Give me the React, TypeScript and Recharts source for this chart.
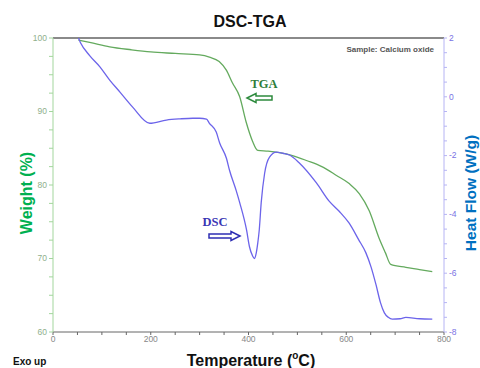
import React from 'react';
import {
  LineChart,
  Line,
  XAxis,
  YAxis,
  ReferenceLine
} from 'recharts';

// TGA curve: temperature (°C) vs weight (%)
const tgaTemp = [52, 75, 116, 160, 200, 250, 300, 320, 340, 355, 367, 382, 395, 408, 419, 440, 463, 490, 520, 550, 580, 606, 627, 647, 667, 680, 691, 722, 750, 776];
const tgaWeight = [99.7, 99.4, 98.8, 98.4, 98.1, 97.9, 97.7, 97.4, 96.8, 95.6, 93.9, 92.0, 88.6, 86.0, 84.7, 84.6, 84.4, 84.0, 83.3, 82.5, 81.3, 80.2, 78.8, 76.5, 72.8, 70.8, 69.2, 68.8, 68.5, 68.2];

// DSC curve: temperature (°C) vs heat flow (W/g)
const dscTemp = [52, 56, 75, 96, 116, 137, 163, 198, 232, 260, 286, 300, 314, 320, 334, 341, 355, 361, 375, 382, 396, 402, 408, 412, 416, 419, 422, 426, 433, 443, 457, 470, 484, 504, 539, 565, 586, 606, 625, 640, 651, 661, 670, 678, 686, 694, 710, 722, 750, 776];
const dscHeat = [2.0, 1.85, 1.4, 1.02, 0.57, 0.16, -0.35, -0.9, -0.79, -0.75, -0.73, -0.73, -0.76, -0.9, -1.2, -1.57, -2.1, -2.49, -3.2, -3.6, -4.53, -5.1, -5.4, -5.5, -5.3, -4.97, -4.53, -3.6, -2.6, -2.05, -1.88, -1.92, -1.98, -2.25, -2.93, -3.55, -3.9, -4.3, -4.85, -5.3, -5.8, -6.4, -7.0, -7.35, -7.5, -7.56, -7.55, -7.5, -7.55, -7.56];

const xTicks = [0, 50, 100, 150, 200, 250, 300, 350, 400, 450, 500, 550, 600, 650, 700, 750, 800];
const xLabels = [0, 200, 400, 600, 800];
const weightTicks = [60, 62.5, 65, 67.5, 70, 72.5, 75, 77.5, 80, 82.5, 85, 87.5, 90, 92.5, 95, 97.5, 100];
const weightLabels = [60, 70, 80, 90, 100];
const heatTicks = [-8, -7.5, -7, -6.5, -6, -5.5, -5, -4.5, -4, -3.5, -3, -2.5, -2, -1.5, -1, -0.5, 0, 0.5, 1, 1.5, 2];
const heatLabels = [-8, -6, -4, -2, 0, 2];

const tgaData = tgaTemp.map((t, i) => ({ t, w: tgaWeight[i] }));
const dscData = dscTemp.map((t, i) => ({ t, h: dscHeat[i] }));

const narrow = '"Liberation Sans Narrow", "Arial Narrow", Arial, sans-serif';

const makeTick = (labels: number[], color: string, anchor: string, dy: string) =>
  (props: any) => {
    const { x, y, payload } = props;
    if (!labels.includes(payload.value)) return <g />;
    return (
      <text x={x} y={y} dy={dy} textAnchor={anchor} fill={color} fontSize={8.5} fontFamily={narrow}>
        {payload.value}
      </text>
    );
  };

export default function App() {
  return (
    <div style={{ position: 'absolute', left: 0, top: 0, width: 480, height: 368, background: '#fff', fontFamily: 'Arial, "Liberation Sans", sans-serif', overflow: 'hidden' }}>
      <LineChart width={480} height={368} margin={{ top: 38, right: 0, bottom: 0, left: 0 }}>
        <XAxis
          type="number"
          dataKey="t"
          domain={[0, 800]}
          ticks={xTicks}
          interval={0}
          height={36}
          stroke="#666"
          tickSize={3}
          tickMargin={1}
          tick={makeTick(xLabels, '#888', 'middle', '0.71em')}
          allowDataOverflow
        />
        <YAxis
          yAxisId="left"
          domain={[60, 100]}
          ticks={weightTicks}
          interval={0}
          width={53}
          stroke="#a3d69d"
          tickSize={4}
          tick={makeTick(weightLabels, '#8fb08c', 'end', '0.32em')}
          allowDataOverflow
        />
        <YAxis
          yAxisId="right"
          orientation="right"
          domain={[-8, 2]}
          ticks={heatTicks}
          interval={0}
          width={36}
          stroke="#b6b4f4"
          tickSize={3}
          tick={makeTick(heatLabels, '#7a72e4', 'start', '0.32em')}
          allowDataOverflow
        />
        <ReferenceLine yAxisId="left" y={100} stroke="#8a8a8a" strokeWidth={2} />
        <Line
          yAxisId="left"
          data={tgaData}
          dataKey="w"
          type="monotone"
          stroke="#64aa5e"
          strokeWidth={1.3}
          dot={false}
          isAnimationActive={false}
        />
        <Line
          yAxisId="right"
          data={dscData}
          dataKey="h"
          type="monotone"
          stroke="#6c64ea"
          strokeWidth={1.3}
          dot={false}
          isAnimationActive={false}
        />
      </LineChart>
      <svg width={480} height={368} style={{ position: 'absolute', left: 0, top: 0, pointerEvents: 'none' }}>
        <text x={250} y={27} textAnchor="middle" fontSize={16} fontWeight="bold" fill="#111">DSC-TGA</text>
        <text x={434} y={52} textAnchor="end" fontSize={8} fontWeight="bold" fill="#555">Sample: Calcium oxide</text>
        <text x={264} y={88} textAnchor="middle" fontSize={12.5} fontWeight="bold" fill="#2e7d3a" fontFamily='"Liberation Serif", "Times New Roman", serif'>TGA</text>
        <path d="M247,98 L256,93.5 L256,96 L272,96 L272,100 L256,100 L256,102.5 Z" fill="#fff" stroke="#2e8b3e" strokeWidth={1.5} />
        <text x={215} y={226} textAnchor="middle" fontSize={12.5} fontWeight="bold" fill="#3a36b4" fontFamily='"Liberation Serif", "Times New Roman", serif'>DSC</text>
        <path d="M240,236 L231,231.5 L231,234 L209,234 L209,238 L231,238 L231,240.5 Z" fill="#fff" stroke="#2f2fb4" strokeWidth={1.5} />
        <text transform="translate(32,193) rotate(-90)" textAnchor="middle" fontSize={16} fontWeight="bold" fill="#00b050">Weight (%)</text>
        <text transform="translate(476,193) rotate(-90)" textAnchor="middle" fontSize={15.5} fontWeight="bold" fill="#0070c0">Heat Flow (W/g)</text>
        <text x={13} y={365} fontSize={10} fontWeight="bold" fill="#111">Exo up</text>
        <text x={251} y={366} textAnchor="middle" fontSize={16} fontWeight="bold" fill="#111">
          Temperature (<tspan fontSize={10} dy={-7}>o</tspan><tspan dy={7}>C)</tspan>
        </text>
      </svg>
    </div>
  );
}
